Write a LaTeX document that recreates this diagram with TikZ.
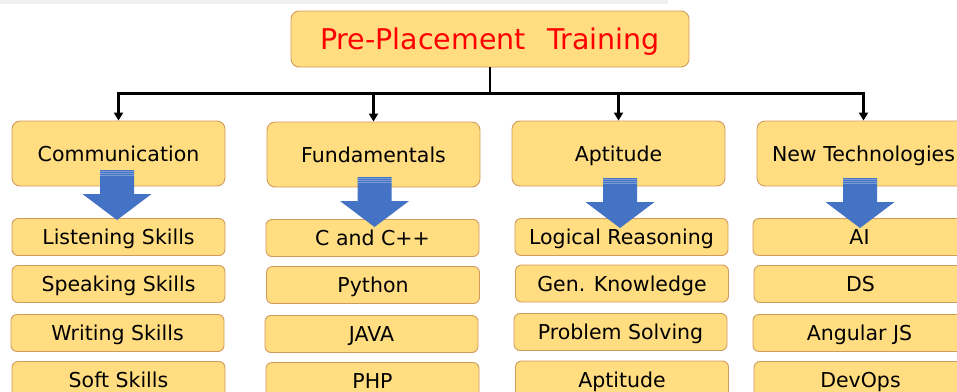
\documentclass[tikz,border=0pt]{standalone}
\usepackage{fontspec}
\setmainfont{DejaVu Sans}
\usetikzlibrary{arrows.meta,calc}
\definecolor{boxfill}{HTML}{FFDD80}
\definecolor{boxline}{HTML}{D39A5E}
\definecolor{arrowblue}{HTML}{4472C4}
\tikzset{
  topic/.style={draw=boxline, fill=boxfill, line width=0.9pt, rounded corners=8pt,
    inner sep=0pt, minimum width=213pt, minimum height=65pt,
    text height=15pt, text depth=0pt,
    font=\fontsize{20.5}{24}\selectfont},
  item/.style={topic, rounded corners=6pt, minimum height=37pt},
  link/.style={line width=2.6pt, -{Triangle[width=9pt,length=8pt]}}
}
% blue block arrow: centre x, top y
\newcommand\downblock[2]{%
  \fill[arrowblue] (#1-17,#2) -- (#1+17,#2) -- (#1+17,#2+24) -- (#1+34.5,#2+24)
    -- (#1,#2+50) -- (#1-34.5,#2+24) -- (#1-17,#2+24) -- cycle;
  \foreach \d in {1.5,3.5,5.5}
    \draw[white, opacity=.3, line width=.6pt] (#1-17,#2+\d) -- (#1+17,#2+\d);
}
\begin{document}
\begin{tikzpicture}[x=1pt,y=-1pt]
  \useasboundingbox (0,0) rectangle (957,391);
  \fill[black!6] (0,0) rectangle (668,4);
  \node [topic, minimum width=398pt, minimum height=56pt, text=red,
         text height=20.5pt, font=\fontsize{28.5}{32}\selectfont] (title) at (490,39)
        {Pre-Placement\hspace{0.75em}Training};
  % second level
  \node [topic] (comm) at (118.5,153.5) {Communication};
  \node [topic] (fund) at (373.5,154.5) {Fundamentals};
  \node [topic] (apti) at (618.5,153.5) {Aptitude};
  \node [topic] (tech) at (863.5,153.5) {New Technologies};
  \coordinate (hub) at ($(title.south)+(0,26)$);
  \draw [line width=2.6pt] (title.south) -- (hub);
  \foreach \n in {comm,fund,apti,tech}
    \draw [link] (hub) -| (\n.north);
  % third level
  \node [item] (listen)  at (118.5,237) {Listening Skills};
  \node [item] (speak)   at (118.5,284) {Speaking Skills};
  \node [item] (write)   at (117.5,333) {Writing Skills};
  \node [item] (soft)    at (118.5,380) {Soft Skills};
  \node [item] (cpp)     at (372.5,238) {C and C++};
  \node [item] (python)  at (373,285) {Python};
  \node [item] (java)    at (371.5,334) {JAVA};
  \node [item] (php)     at (372.5,381) {PHP};
  \node [item] (logic)   at (621.5,237) {Logical Reasoning};
  \node [item] (genknow) at (622,283.5) {Gen. Knowledge};
  \node [item] (problem) at (620.5,332) {Problem Solving};
  \node [item] (aptit)   at (622,379.5) {Aptitude};
  \node [item] (ai)      at (859.5,237) {AI};
  \node [item] (ds)      at (860.5,284) {DS};
  \node [item] (angular) at (859.5,333) {Angular JS};
  \node [item] (devops)  at (860.5,380) {DevOps};
  \downblock{117}{170}
  \downblock{374.5}{177}
  \downblock{620}{178}
  \downblock{860}{178}
\end{tikzpicture}
\end{document}
